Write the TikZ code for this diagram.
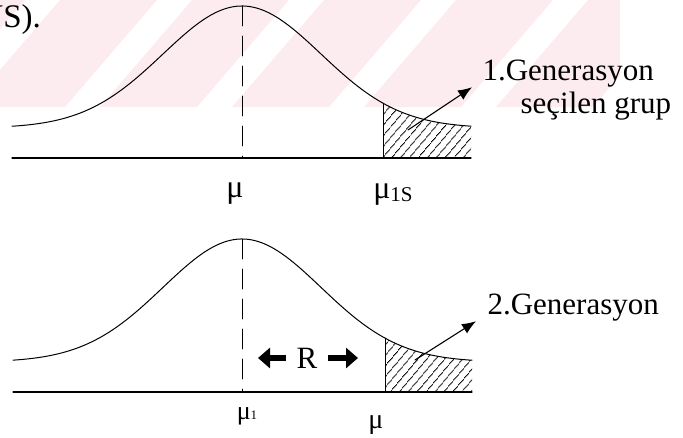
\documentclass[tikz,border=0pt]{standalone}
\usepackage{fontspec}
\setmainfont{Liberation Serif}
\usetikzlibrary{arrows.meta,patterns.meta}
\definecolor{wmpink}{RGB}{253,236,239}

\begin{document}
\begin{tikzpicture}[x=1pt, y=-1pt, line width=1.1pt, line cap=round, line join=round,
    lbl/.style={inner sep=0pt, font=\fontsize{31}{38}\selectfont},
    mulbl/.style={inner sep=0pt, font=\fontsize{32}{38}\selectfont},
    hatch/.style={pattern={Lines[angle=50,distance=6.5pt,line width=0.8pt]}},
    ptr/.style={line width=1.1pt, -{Latex[length=14pt,width=11pt]}},
    blockarr/.style={line width=6pt, line cap=butt, -{Triangle[length=12pt,width=20pt]}}]

  %% ════ 水印（浅粉斜条）════
  \begin{scope}
    \clip (0,0) rectangle (620,107);
    \foreach \a in {-164,-32,100,232,364,496}
      \fill[wmpink] (\a,107) -- (\a+97,107) -- (\a+189,0) -- (\a+92,0) -- cycle;
  \end{scope}

  %% ════ 上图：第 1 代 ════
  \fill[hatch] (383,158) -- plot[domain=383:471, samples=30] (\x, {158-30-122*exp(-0.5*(((\x-242)/79)^2))}) -- (471,158) -- cycle;
  \draw[line width=1.0pt] plot[domain=12:471, samples=140] (\x, {158-30-122*exp(-0.5*(((\x-242)/79)^2))});
  \draw[line width=1.3pt] (12,158) -- (471,158);
  \draw[line width=0.9pt, dash pattern=on 20pt off 10pt] (242,6) -- (242,158);
  \draw[line width=1.0pt] (383,158) -- (383,103.4);

  %% ════ 下图：第 2 代 ════
  \fill[hatch] (385,392) -- plot[domain=385:472, samples=30] (\x, {392-30-123*exp(-0.5*(((\x-242)/79)^2))}) -- (472,392) -- cycle;
  \draw[line width=1.0pt] plot[domain=13:472, samples=140] (\x, {392-30-123*exp(-0.5*(((\x-242)/79)^2))});
  \draw[line width=1.3pt] (13,392) -- (472,392);
  \draw[line width=0.9pt, dash pattern=on 20pt off 10pt] (242,239) -- (242,392);
  \draw[line width=1.0pt] (385,392) -- (385,338.1);

  %% ════ 标签 ════
  \node[lbl, anchor=base west, font=\fontsize{33}{40}\selectfont] (head) at (-21,27) {YS).};
  \node[lbl, anchor=base west] (gen1) at (482,80) {1.Generasyon};
  \node[lbl, anchor=base west] (sel) at (520,113) {seçilen grup};
  \node[lbl, anchor=base west] (gen2) at (487,314) {2.Generasyon};
  \node[mulbl] (mu0) at (235,194) {μ};
  \node[mulbl] (mu1s) at (393,195) {μ\raisebox{-3pt}{\fontsize{21}{24}\selectfont 1S}};
  \node[inner sep=0pt, font=\fontsize{26}{30}\selectfont] (mu1) at (247,416) {μ{\fontsize{13}{15}\selectfont 1}};
  \node[inner sep=0pt, font=\fontsize{28}{32}\selectfont] (mu2) at (376,425) {μ};
  \node[lbl, inner xsep=10pt] (R) at (307,358) {R};

  %% ════ 箭头 ════
  \coordinate (t1) at (408,130);
  \coordinate (t2) at (415,360);
  \coordinate (Rl) at (258,358);
  \coordinate (Rr) at (358,358);
  \draw[ptr] (t1) -- ([xshift=-10pt]gen1.south west);
  \draw[ptr] (t2) -- ([xshift=-11pt]gen2.south west);
  \draw[blockarr] (R.west) -- (Rl);
  \draw[blockarr] (R.east) -- (Rr);

  % 钉死画布
  \pgfresetboundingbox
  \path[use as bounding box] (0,0) rectangle (683,437);
\end{tikzpicture}
\end{document}
